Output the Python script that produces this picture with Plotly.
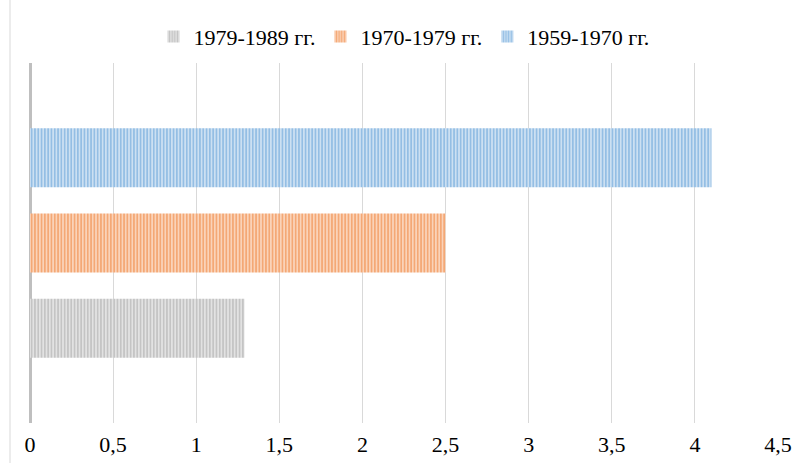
import plotly.graph_objects as go

categories = [""]
series_names = ["1979-1989 гг.", "1970-1979 гг.", "1959-1970 гг."]
series_values = [[1.29], [2.5], [4.1]]
fg_colors = ["#A5A5A5", "#ED7D31", "#5B9BD5"]
bg_colors = ["#E2E2E2", "#FAD3B9", "#CCE0F2"]
tick_vals = [0, 0.5, 1, 1.5, 2, 2.5, 3, 3.5, 4, 4.5]
tick_text = ["0", "0,5", "1", "1,5", "2", "2,5", "3", "3,5", "4", "4,5"]

fig = go.Figure()
for name, vals, fg, bg in zip(series_names, series_values, fg_colors, bg_colors):
    fig.add_trace(go.Bar(
        y=categories, x=vals, name=name, orientation="h",
        marker=dict(color=bg, line=dict(width=0),
                    pattern=dict(shape="|", size=3.3, solidity=0.5,
                                 fgcolor=fg, bgcolor=bg, fillmode="overlay")),
    ))

fig.update_layout(
    width=796, height=463,
    margin=dict(l=30, r=18, t=63, b=40, autoexpand=False),
    paper_bgcolor="white", plot_bgcolor="white",
    barmode="group", bargap=0.29, bargroupgap=0.306,
    font=dict(family="Liberation Serif", size=22, color="black"),
    legend=dict(orientation="h", x=0.5, xanchor="center", y=1.015, yanchor="bottom",
                font=dict(family="Liberation Serif", size=22, color="black"),
                itemwidth=30, traceorder="normal"),
    showlegend=True,
)
fig.update_xaxes(range=[0, 4.5], tickvals=tick_vals, ticktext=tick_text,
                 automargin=False,
                 showgrid=True, gridcolor="#D9D9D9", gridwidth=1,
                 zeroline=True, zerolinecolor="#BFBFBF", zerolinewidth=3,
                 showline=False, ticks="", ticklabelstandoff=6,
                 tickfont=dict(family="Liberation Serif", size=22, color="black"))
fig.update_yaxes(automargin=False, showticklabels=False, showgrid=False,
                 zeroline=False, showline=False)
fig.add_shape(type="line", xref="paper", yref="paper",
              x0=-20/748, x1=-20/748, y0=-40/360, y1=63/360 + 1,
              line=dict(color="#D9D9D9", width=1))

fig.write_html("out.html", config={"displayModeBar": False},
               post_script="document.body.style.margin='0';document.body.style.padding='0';")
